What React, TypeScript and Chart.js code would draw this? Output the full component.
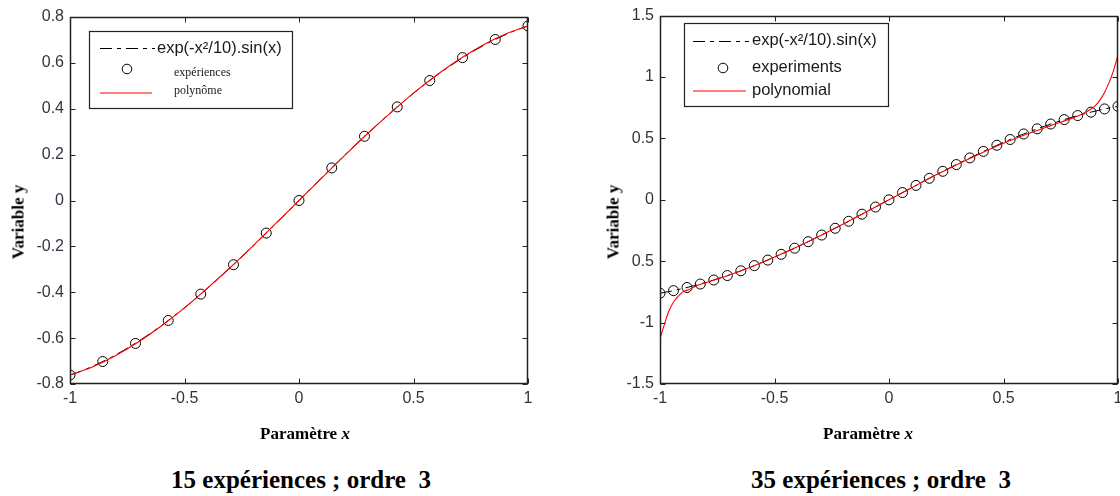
import React, { useEffect, useRef } from "react";
import { Chart, registerables } from "chart.js";

Chart.register(...registerables);

// ---------- data ----------
const xTickValues = [-1, -0.5, 0, 0.5, 1];
const xTickLabels = ["-1", "-0.5", "0", "0.5", "1"];

const leftYTickValues = [-0.8, -0.6, -0.4, -0.2, 0, 0.2, 0.4, 0.6, 0.8];
const leftYTickLabels = ["-0.8", "-0.6", "-0.4", "-0.2", "0", "0.2", "0.4", "0.6", "0.8"];

const rightYTickValues = [-1.5, -1, -0.5, 0, 0.5, 1, 1.5];
const rightYTickLabels = ["-1.5", "-1", "0.5", "0", "0.5", "1", "1.5"];

// 15 experiments (left)
const leftExpX = [-1, -0.857, -0.714, -0.571, -0.429, -0.286, -0.143, 0, 0.143, 0.286, 0.429, 0.571, 0.714, 0.857, 1];
const leftExpY = [-0.761, -0.702, -0.623, -0.523, -0.408, -0.28, -0.142, 0, 0.142, 0.28, 0.408, 0.523, 0.623, 0.702, 0.761];

// polynomial (left)
const leftPolyX = [-1, -0.9, -0.8, -0.7, -0.6, -0.5, -0.4, -0.3, -0.2, -0.1, 0, 0.1, 0.2, 0.3, 0.4, 0.5, 0.6, 0.7, 0.8, 0.9, 1];
const leftPolyY = [-0.761, -0.725, -0.676, -0.616, -0.546, -0.468, -0.382, -0.292, -0.197, -0.099, 0, 0.099, 0.197, 0.292, 0.382, 0.468, 0.546, 0.616, 0.676, 0.725, 0.761];

// 35 experiments (right) — also used for the exp(-x²/10).sin(x) curve
const rightExpX = [-1, -0.941, -0.882, -0.824, -0.765, -0.706, -0.647, -0.588, -0.529, -0.471, -0.412, -0.353, -0.294, -0.235, -0.176, -0.118, -0.059, 0, 0.059, 0.118, 0.176, 0.235, 0.294, 0.353, 0.412, 0.471, 0.529, 0.588, 0.647, 0.706, 0.765, 0.824, 0.882, 0.941, 1];
const rightExpY = [-0.761, -0.74, -0.714, -0.686, -0.653, -0.617, -0.578, -0.536, -0.491, -0.444, -0.394, -0.341, -0.287, -0.232, -0.175, -0.117, -0.059, 0, 0.059, 0.117, 0.175, 0.232, 0.287, 0.341, 0.394, 0.444, 0.491, 0.536, 0.578, 0.617, 0.653, 0.686, 0.714, 0.74, 0.761];

// polynomial (right)
const rightPolyX = [-1, -0.98, -0.96, -0.94, -0.92, -0.9, -0.87, -0.84, -0.8, -0.7, -0.6, -0.5, -0.4, -0.3, -0.2, -0.1, 0, 0.1, 0.2, 0.3, 0.4, 0.5, 0.6, 0.7, 0.8, 0.84, 0.87, 0.9, 0.92, 0.94, 0.96, 0.98, 1];
const rightPolyY = [-1.13, -1.01, -0.9, -0.83, -0.785, -0.75, -0.728, -0.7, -0.675, -0.615, -0.545, -0.466, -0.382, -0.292, -0.197, -0.099, 0, 0.099, 0.197, 0.29, 0.378, 0.46, 0.533, 0.6, 0.665, 0.695, 0.725, 0.765, 0.81, 0.87, 0.95, 1.05, 1.18];

const legendFunc = "exp(-x²/10).sin(x)";

// ---------- helpers ----------
const zip = (xs: number[], ys: number[]) => xs.map((x, i) => ({ x, y: ys[i] }));
const SANS = '"Liberation Sans", Arial, sans-serif';
const SERIF = '"Liberation Serif", "Times New Roman", serif';
const DASH = [12, 5, 4, 5];

type LegendSpec = {
  x: number; y: number; w: number; h: number;
  lineX0: number; lineX1: number; markX: number;
  textX: number; textX2: number;
  rows: number[];
  textRows: number[];
  labels: string[];
  smallFont: string;
};

function makePlugin(legend: LegendSpec) {
  return {
    id: "frameLegend",
    afterDatasetsDraw(chart: any) {
      const ctx = chart.ctx as CanvasRenderingContext2D;
      const a = chart.chartArea;
      const xs = chart.scales.x;
      const ys = chart.scales.y;
      ctx.save();
      ctx.strokeStyle = "#222";
      ctx.lineWidth = 1.5;
      ctx.setLineDash([]);
      const L = Math.round(a.left) + 0.5;
      const R = Math.round(a.right) - 0.5;
      const T = Math.round(a.top) + 0.5;
      const B = Math.round(a.bottom) - 0.5;
      ctx.beginPath();
      ctx.rect(L, T, R - L, B - T);
      ctx.stroke();
      ctx.lineWidth = 1;
      const tl = 5;
      ctx.beginPath();
      xs.ticks.forEach((t: any) => {
        const px = Math.round(xs.getPixelForValue(t.value)) + 0.5;
        ctx.moveTo(px, B); ctx.lineTo(px, B - tl);
        ctx.moveTo(px, T); ctx.lineTo(px, T + tl);
      });
      ys.ticks.forEach((t: any) => {
        const py = Math.round(ys.getPixelForValue(t.value)) + 0.5;
        ctx.moveTo(L, py); ctx.lineTo(L + tl, py);
        ctx.moveTo(R, py); ctx.lineTo(R - tl, py);
      });
      ctx.stroke();

      // legend
      const g = legend;
      ctx.fillStyle = "#fff";
      ctx.fillRect(g.x, g.y, g.w, g.h);
      ctx.strokeStyle = "#222";
      ctx.lineWidth = 1.2;
      ctx.strokeRect(g.x + 0.5, g.y + 0.5, g.w, g.h);
      ctx.lineWidth = 1;
      ctx.strokeStyle = "#000";
      ctx.setLineDash(DASH);
      ctx.beginPath();
      ctx.moveTo(g.lineX0, g.rows[0] + 0.5);
      ctx.lineTo(g.lineX1, g.rows[0] + 0.5);
      ctx.stroke();
      ctx.setLineDash([]);
      ctx.beginPath();
      ctx.arc(g.markX, g.rows[1], 4.8, 0, Math.PI * 2);
      ctx.stroke();
      ctx.strokeStyle = "#ff0000";
      ctx.lineWidth = 1.2;
      ctx.beginPath();
      ctx.moveTo(g.lineX0, g.rows[2]);
      ctx.lineTo(g.lineX1 - 3, g.rows[2]);
      ctx.stroke();
      ctx.fillStyle = "#1a1a1a";
      ctx.textBaseline = "middle";
      ctx.textAlign = "left";
      ctx.font = `16.5px ${SANS}`;
      ctx.fillText(g.labels[0], g.textX, g.textRows[0]);
      ctx.font = g.smallFont;
      ctx.fillText(g.labels[1], g.textX2, g.textRows[1]);
      ctx.fillText(g.labels[2], g.textX2, g.textRows[2]);
      ctx.restore();
    },
  };
}

type PanelProps = {
  left: number; width: number; height: number;
  yScaleWidth: number; padTop: number; padRight: number; xScaleHeight: number;
  yValues: number[]; yLabels: string[];
  expX: number[]; expY: number[];
  polyX: number[]; polyY: number[];
  legend: LegendSpec;
};

function Panel(p: PanelProps) {
  const ref = useRef<HTMLCanvasElement | null>(null);
  useEffect(() => {
    if (!ref.current) return;
    const tickFont = { family: SANS, size: 16 };
    const chart = new Chart(ref.current, {
      type: "scatter",
      data: {
        datasets: [
          {
            label: "polynôme",
            data: zip(p.polyX, p.polyY),
            showLine: true,
            borderColor: "#ff0000",
            borderWidth: 1.1,
            pointRadius: 0,
            cubicInterpolationMode: "monotone",
            order: 1,
          },
          {
            label: "expériences",
            data: zip(p.expX, p.expY),
            showLine: false,
            borderColor: "#000",
            backgroundColor: "rgba(0,0,0,0)",
            borderWidth: 1,
            pointRadius: 5,
            pointHoverRadius: 5,
            order: 2,
          },
          {
            label: legendFunc,
            data: zip(rightExpX, rightExpY),
            showLine: true,
            borderColor: "#000",
            borderWidth: 1,
            borderDash: DASH,
            pointRadius: 0,
            order: 3,
          },
        ],
      } as any,
      options: {
        animation: false,
        responsive: false,
        maintainAspectRatio: false,
        events: [],
        layout: { padding: { left: 0, top: p.padTop, right: p.padRight, bottom: 0 } },
        plugins: { legend: { display: false }, tooltip: { enabled: false } },
        scales: {
          x: {
            type: "linear",
            min: -1,
            max: 1,
            grid: { display: false, drawTicks: false },
            border: { display: false },
            afterBuildTicks: (s: any) => { s.ticks = xTickValues.map((v) => ({ value: v })); },
            afterFit: (s: any) => { s.height = p.xScaleHeight; },
            ticks: {
              font: tickFont,
              color: "#33333f",
              padding: 5,
              maxRotation: 0,
              autoSkip: false,
              callback: (_v: any, i: number) => xTickLabels[i],
            },
          },
          y: {
            type: "linear",
            min: p.yValues[0],
            max: p.yValues[p.yValues.length - 1],
            grid: { display: false, drawTicks: false },
            border: { display: false },
            afterBuildTicks: (s: any) => { s.ticks = p.yValues.map((v) => ({ value: v })); },
            afterFit: (s: any) => { s.width = p.yScaleWidth; },
            ticks: {
              font: tickFont,
              color: "#33333f",
              padding: 6,
              autoSkip: false,
              callback: (_v: any, i: number) => p.yLabels[i],
            },
          },
        },
      } as any,
      plugins: [makePlugin(p.legend)],
    });
    return () => chart.destroy();
  }, []);
  return (
    <canvas
      ref={ref}
      width={p.width}
      height={p.height}
      style={{ position: "absolute", left: p.left, top: 0, width: p.width, height: p.height }}
    />
  );
}

const centered = (cx: number, cy: number, extra: any = {}) => ({
  position: "absolute" as const,
  left: cx,
  top: cy,
  transform: "translate(-50%, -50%)",
  whiteSpace: "nowrap" as const,
  color: "#000",
  fontFamily: SERIF,
  fontWeight: "bold" as const,
  lineHeight: 1,
  ...extra,
});

export default function App() {
  return (
    <div
      style={{
        position: "absolute",
        left: 0,
        top: 0,
        width: 1120,
        height: 496,
        overflow: "hidden",
        background: "#fff",
      }}
    >
      <Panel
        left={0}
        width={560}
        height={440}
        yScaleWidth={70}
        padTop={17}
        padRight={32}
        xScaleHeight={56}
        yValues={leftYTickValues}
        yLabels={leftYTickLabels}
        expX={leftExpX}
        expY={leftExpY}
        polyX={leftPolyX}
        polyY={leftPolyY}
        legend={{
          x: 89, y: 31, w: 203, h: 77,
          lineX0: 100, lineX1: 155, markX: 127,
          textX: 157, textX2: 174,
          rows: [48, 69, 93],
          textRows: [48, 73, 91],
          labels: [legendFunc, "expériences", "polynôme"],
          smallFont: `12px ${SERIF}`,
        }}
      />
      <Panel
        left={560}
        width={590}
        height={440}
        yScaleWidth={100}
        padTop={15}
        padRight={32}
        xScaleHeight={56}
        yValues={rightYTickValues}
        yLabels={rightYTickLabels}
        expX={rightExpX}
        expY={rightExpY}
        polyX={rightPolyX}
        polyY={rightPolyY}
        legend={{
          x: 124, y: 23, w: 204, h: 83,
          lineX0: 133, lineX1: 189, markX: 163,
          textX: 192, textX2: 192,
          rows: [41, 68, 91],
          textRows: [40, 67, 90],
          labels: [legendFunc, "experiments", "polynomial"],
          smallFont: `16.5px ${SANS}`,
        }}
      />
      <div style={centered(18, 222, { fontSize: 17, transform: "translate(-50%, -50%) rotate(-90deg)" })}>Variable y</div>
      <div style={centered(613, 222, { fontSize: 17, transform: "translate(-50%, -50%) rotate(-90deg)" })}>Variable y</div>
      <div style={centered(305, 433, { fontSize: 17 })}>
        Paramètre <i>x</i>
      </div>
      <div style={centered(868, 433, { fontSize: 17 })}>
        Paramètre <i>x</i>
      </div>
      <div style={centered(301, 479, { fontSize: 25 })}>15 expériences ; ordre&nbsp; 3</div>
      <div style={centered(881, 479, { fontSize: 25 })}>35 expériences ; ordre&nbsp; 3</div>
    </div>
  );
}
